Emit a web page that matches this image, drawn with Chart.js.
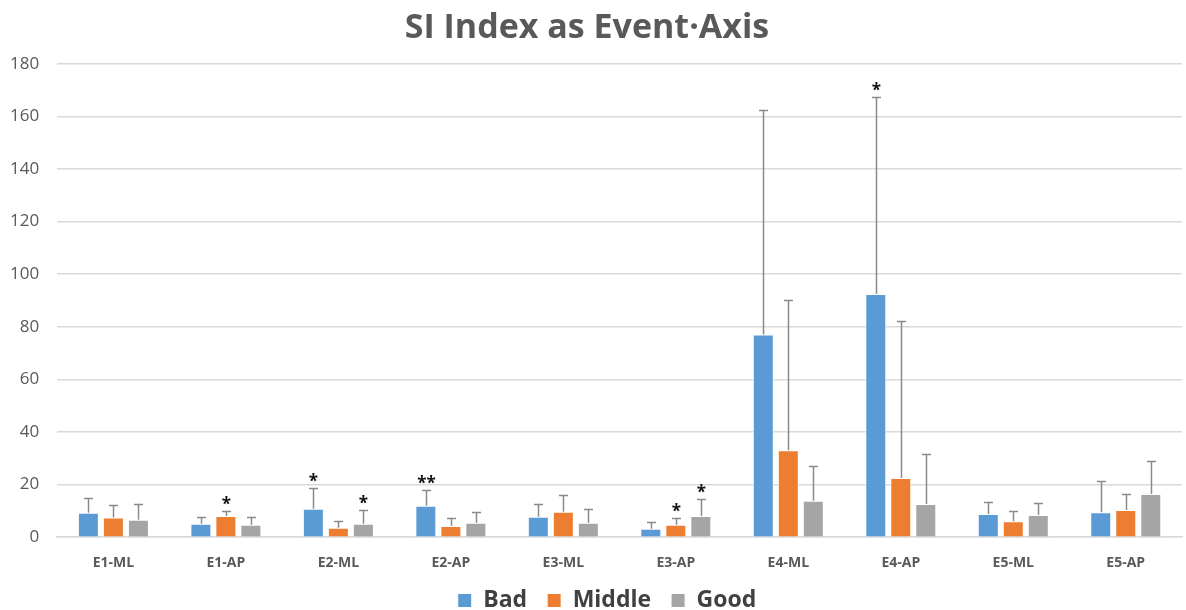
<!DOCTYPE html>
<html>
<head>
<meta charset="utf-8">
<script src="https://cdn.jsdelivr.net/npm/chart.js@4.4.1/dist/chart.umd.min.js"></script>
<style>
html,body{margin:0;padding:0;background:#fff;}
#wrap{width:1186px;height:610px;position:relative;}
</style>
</head>
<body>
<div id="wrap"><canvas id="c" width="1186" height="610"></canvas></div>
<script>
const categories = ["E1-ML","E1-AP","E2-ML","E2-AP","E3-ML","E3-AP","E4-ML","E4-AP","E5-ML","E5-AP"];
const badValues    = [9.3, 5.1, 10.8, 12.0, 7.8, 3.2, 77.1, 92.5, 8.8, 9.5];
const middleValues = [7.5, 8.1, 3.6, 4.3, 9.7, 4.7, 33.1, 22.5, 6.1, 10.3];
const goodValues   = [6.6, 4.7, 5.1, 5.5, 5.5, 8.1, 13.9, 12.6, 8.4, 16.4];
// error bar top (mean + SD)
const badErrTop    = [14.9, 7.8, 18.7, 17.9, 12.6, 5.7, 162.3, 167.2, 13.2, 21.3];
const middleErrTop = [12.2, 9.9, 6.1, 7.4, 16.0, 7.4, 90.0, 82.2, 9.9, 16.3];
const goodErrTop   = [12.6, 7.8, 10.3, 9.5, 10.7, 14.5, 26.9, 31.5, 13.0, 28.8];
// significance marks
const badMarks    = ["", "", "*", "**", "", "", "", "*", "", ""];
const middleMarks = ["", "*", "", "", "", "*", "", "", "", ""];
const goodMarks   = ["", "", "*", "", "", "*", "", "", "", ""];
const yTicks = [0,20,40,60,80,100,120,140,160,180];

const errTops = [badErrTop, middleErrTop, goodErrTop];
const marks = [badMarks, middleMarks, goodMarks];

const errorBarPlugin = {
  id: 'errbars',
  afterLayout(chart) {
    if (chart.legend) { chart.legend.left += 20; chart.legend.right += 20; }
  },
  afterDatasetsDraw(chart) {
    const ctx = chart.ctx;
    const y = chart.scales.y;
    ctx.save();
    chart.data.datasets.forEach((ds, di) => {
      const meta = chart.getDatasetMeta(di);
      meta.data.forEach((bar, i) => {
        const top = Math.round(y.getPixelForValue(errTops[di][i])) + 0.5;
        const x = Math.round(bar.x) + 0.5;
        ctx.strokeStyle = '#8a8a8a';
        ctx.lineWidth = 1.5;
        ctx.beginPath();
        ctx.moveTo(x, bar.y);
        ctx.lineTo(x, top);
        ctx.moveTo(x - 4.5, top);
        ctx.lineTo(x + 4.5, top);
        ctx.stroke();
        const m = marks[di][i];
        if (m) {
          ctx.fillStyle = '#111';
          ctx.font = 'bold 17px "Open Sans", sans-serif';
          ctx.textAlign = 'center';
          ctx.textBaseline = 'alphabetic';
          ctx.fillText(m, x, top - 2);
        }
      });
    });
    ctx.restore();
  }
};

new Chart(document.getElementById('c'), {
  type: 'bar',
  data: {
    labels: categories,
    datasets: [
      {label: 'Bad', data: badValues, backgroundColor: '#5b9bd5', borderColor: '#ffffff', borderWidth: 1},
      {label: 'Middle', data: middleValues, backgroundColor: '#ed7d31', borderColor: '#ffffff', borderWidth: 1},
      {label: 'Good', data: goodValues, backgroundColor: '#a5a5a5', borderColor: '#ffffff', borderWidth: 1}
    ]
  },
  options: {
    responsive: false,
    animation: false,
    devicePixelRatio: 1,
    layout: {padding: {left: -8, right: 4, top: 0, bottom: -12}},
    datasets: {bar: {categoryPercentage: 0.667, barPercentage: 0.84}},
    plugins: {
      title: {
        display: true,
        text: 'SI Index as Event·Axis',
        color: '#595959',
        font: {family: '"Open Sans", sans-serif', size: 34, weight: 'bold'},
        padding: {top: 8, bottom: 15}
      },
      legend: {
        position: 'bottom',
        labels: {
          color: '#404040',
          font: {family: '"Open Sans", sans-serif', size: 23, weight: 'bold'},
          boxWidth: 14, boxHeight: 14, padding: 20
        }
      },
      tooltip: {enabled: false}
    },
    scales: {
      x: {
        grid: {display: false, drawTicks: false},
        border: {color: '#d9d9d9', width: 1.5},
        ticks: {color: '#595959', font: {family: '"Open Sans", sans-serif', size: 14, weight: 'bold'}, padding: 17},
        afterFit(axis) { axis.height -= 19; }
      },
      y: {
        min: 0, max: 180,
        afterBuildTicks(axis) { axis.ticks = yTicks.map(v => ({value: v})); },
        grid: {color: '#d9d9d9', lineWidth: 1.5, drawTicks: false},
        border: {display: false},
        ticks: {color: '#595959', font: {family: '"Open Sans", sans-serif', size: 17}, padding: 18}
      }
    }
  },
  plugins: [errorBarPlugin]
});
</script>
</body>
</html>
